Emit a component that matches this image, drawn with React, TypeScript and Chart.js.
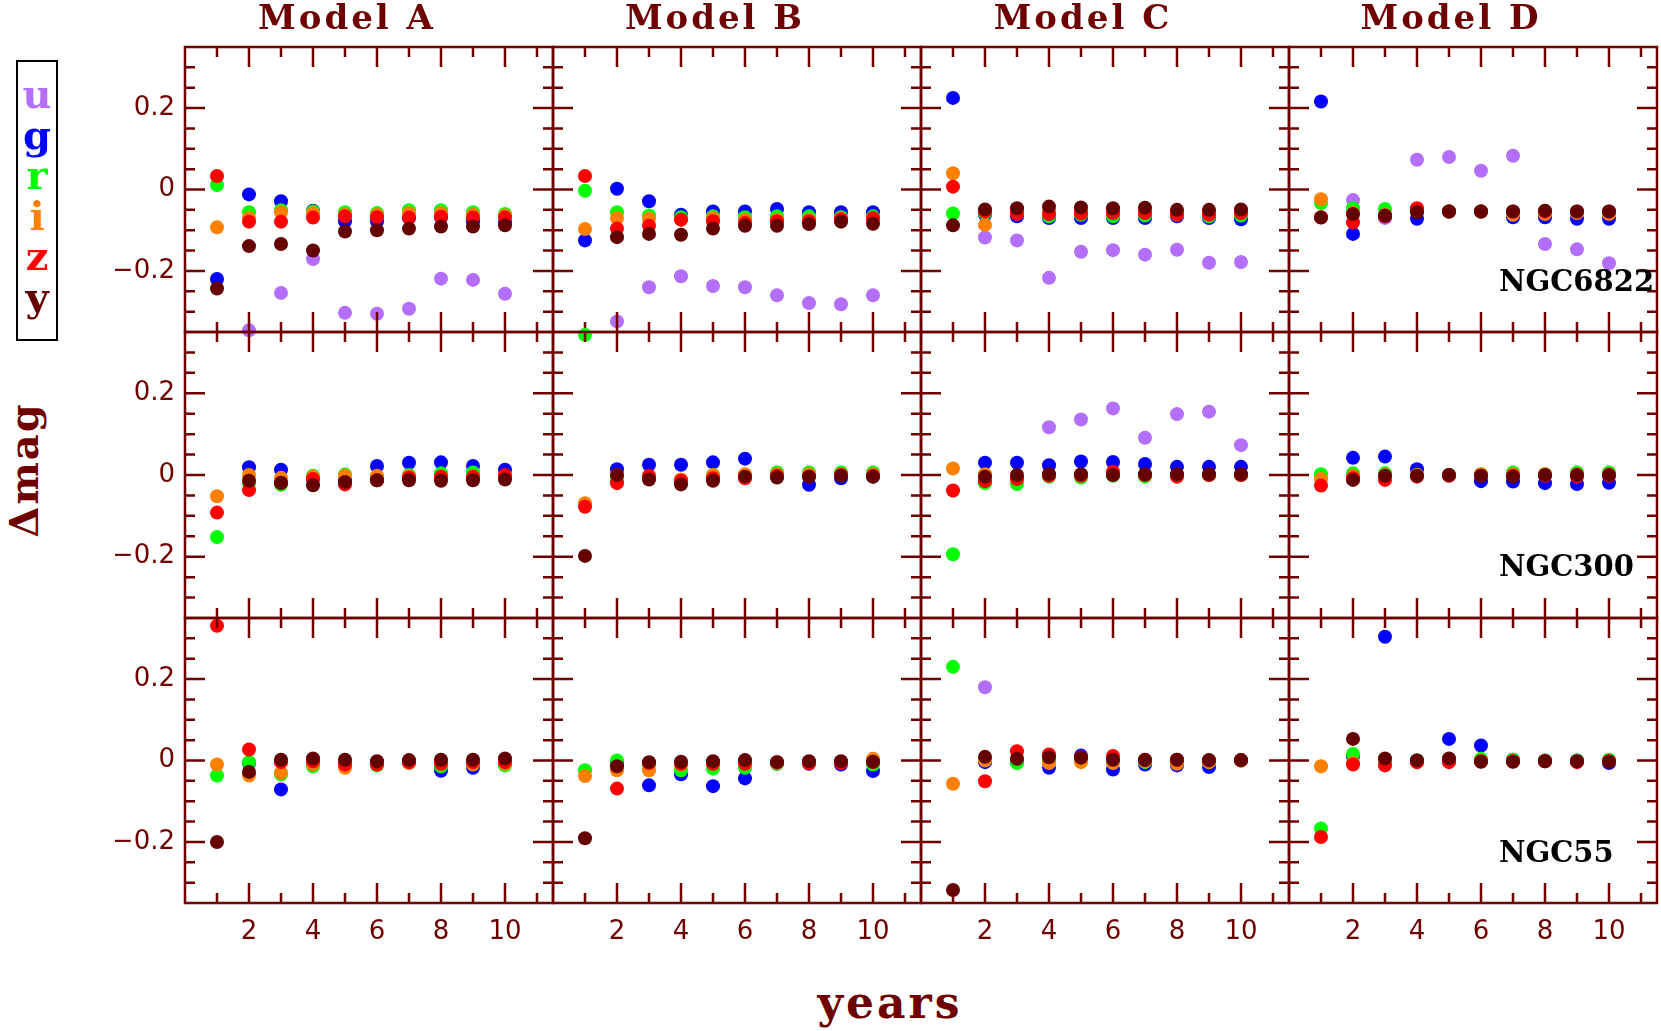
import React, { useEffect, useRef } from 'react';
import { Chart, registerables } from 'chart.js';

Chart.register(...registerables);

const N = null;

const MODELS = ['Model A', 'Model B', 'Model C', 'Model D'];
const GALAXIES = ['NGC6822', 'NGC300', 'NGC55'];
const BANDS = ['u', 'g', 'r', 'i', 'z', 'y'];
const BAND_COLORS = ['#b36efc', '#0000ff', '#00ff00', '#ff8000', '#ff0000', '#650000'];
const YEARS = [1, 2, 3, 4, 5, 6, 7, 8, 9, 10];
const X_TICKS = [1, 2, 3, 4, 5, 6, 7, 8, 9, 10, 11];
const X_LABELS = [2, 4, 6, 8, 10];
const Y_TICKS = [-0.3, -0.25, -0.2, -0.15, -0.1, -0.05, 0, 0.05, 0.1, 0.15, 0.2, 0.25, 0.3];
const Y_LABELS = [-0.2, 0, 0.2];

// each array: [Model A, Model B, Model C, Model D], 10 yearly values
const NGC6822_u = [
  [N, -0.346, -0.254, -0.171, -0.303, -0.305, -0.293, -0.219, -0.222, -0.256],
  [N, -0.324, -0.240, -0.213, -0.237, -0.240, -0.260, -0.279, -0.282, -0.260],
  [N, -0.118, -0.125, -0.217, -0.153, -0.149, -0.160, -0.148, -0.180, -0.178],
  [N, -0.026, -0.070, 0.073, 0.080, 0.046, 0.083, -0.134, -0.147, -0.181],
];
const NGC6822_g = [
  [-0.220, -0.012, -0.029, -0.052, -0.078, -0.078, -0.070, -0.068, -0.078, -0.080],
  [-0.125, 0.002, -0.029, -0.062, -0.054, -0.054, -0.048, -0.056, -0.056, -0.056],
  [0.225, -0.062, -0.066, -0.070, -0.070, -0.070, -0.070, -0.066, -0.070, -0.073],
  [0.216, -0.109, -0.066, -0.072, -0.054, -0.054, -0.068, -0.068, -0.072, -0.072],
];
const NGC6822_r = [
  [0.011, -0.056, -0.051, -0.054, -0.056, -0.058, -0.051, -0.051, -0.056, -0.060],
  [-0.003, -0.056, -0.064, -0.068, -0.066, -0.068, -0.066, -0.066, -0.068, -0.066],
  [-0.059, -0.058, -0.058, -0.066, -0.062, -0.066, -0.064, -0.062, -0.066, -0.064],
  [-0.033, -0.046, -0.048, -0.050, -0.054, -0.054, -0.056, -0.056, -0.056, -0.056],
];
const NGC6822_i = [
  [-0.093, -0.070, -0.056, -0.058, -0.062, -0.062, -0.058, -0.058, -0.062, -0.064],
  [-0.097, -0.070, -0.072, -0.074, -0.070, -0.074, -0.074, -0.074, -0.072, -0.072],
  [0.040, -0.087, -0.054, -0.054, -0.054, -0.056, -0.056, -0.056, -0.058, -0.056],
  [-0.024, -0.058, -0.062, -0.054, -0.054, -0.054, -0.062, -0.060, -0.058, -0.060],
];
const NGC6822_z = [
  [0.033, -0.079, -0.079, -0.069, -0.066, -0.068, -0.069, -0.067, -0.069, -0.069],
  [0.033, -0.096, -0.089, -0.074, -0.078, -0.082, -0.078, -0.078, -0.073, -0.070],
  [0.007, -0.054, -0.060, -0.060, -0.059, -0.058, -0.058, -0.062, -0.062, -0.058],
  [-0.068, -0.081, -0.066, -0.046, -0.054, -0.054, -0.054, -0.054, -0.054, -0.054],
];
const NGC6822_y = [
  [-0.243, -0.139, -0.134, -0.150, -0.103, -0.100, -0.096, -0.091, -0.091, -0.088],
  [N, -0.117, -0.109, -0.111, -0.096, -0.089, -0.089, -0.085, -0.079, -0.084],
  [-0.088, -0.049, -0.046, -0.042, -0.044, -0.046, -0.045, -0.050, -0.050, -0.049],
  [-0.069, -0.060, -0.064, -0.056, -0.054, -0.054, -0.054, -0.052, -0.054, -0.054],
];

const NGC300_u = [
  [N, N, N, N, N, N, N, N, N, N],
  [N, N, N, N, N, N, N, N, N, N],
  [N, N, N, 0.117, 0.136, 0.163, 0.091, 0.149, 0.155, 0.073],
  [N, N, N, N, N, N, N, N, N, N],
];
const NGC300_g = [
  [N, 0.019, 0.013, -0.008, -0.012, 0.022, 0.030, 0.031, 0.022, 0.013],
  [N, 0.014, 0.025, 0.025, 0.031, 0.040, -0.004, -0.024, -0.008, -0.004],
  [N, 0.030, 0.030, 0.024, 0.033, 0.032, 0.027, 0.020, 0.020, 0.020],
  [N, 0.042, 0.045, 0.014, 0.000, -0.015, -0.016, -0.020, -0.022, -0.019],
];
const NGC300_r = [
  [-0.152, -0.020, -0.024, -0.002, 0.001, -0.004, 0.000, 0.004, 0.006, -0.004],
  [0.343, -0.012, -0.008, -0.016, 0.000, -0.004, 0.006, 0.006, 0.006, 0.006],
  [-0.194, -0.020, -0.022, -0.004, -0.006, -0.002, -0.004, -0.002, 0.000, 0.000],
  [0.002, 0.004, 0.004, 0.000, 0.000, 0.002, 0.006, 0.002, 0.006, 0.006],
];
const NGC300_i = [
  [-0.052, 0.000, -0.007, -0.004, -0.002, -0.002, -0.003, -0.004, -0.004, -0.004],
  [-0.069, 0.000, -0.008, -0.011, 0.000, 0.002, 0.002, 0.002, 0.002, 0.002],
  [0.016, 0.002, -0.008, 0.000, 0.000, 0.000, 0.000, 0.000, 0.000, 0.000],
  [-0.010, -0.002, 0.000, 0.000, 0.000, 0.002, 0.002, 0.002, 0.002, 0.002],
];
const NGC300_z = [
  [-0.092, -0.037, -0.020, -0.010, -0.023, -0.013, -0.006, -0.004, -0.004, 0.000],
  [-0.078, -0.020, -0.002, -0.014, -0.008, -0.008, -0.002, -0.004, 0.000, -0.002],
  [-0.038, -0.015, -0.010, -0.002, -0.002, 0.008, 0.000, -0.004, 0.000, 0.000],
  [-0.026, -0.008, -0.012, -0.004, -0.002, -0.002, -0.002, -0.002, -0.004, -0.002],
];
const NGC300_y = [
  [N, -0.014, -0.019, -0.025, -0.017, -0.013, -0.013, -0.014, -0.013, -0.011],
  [-0.198, 0.000, -0.011, -0.023, -0.014, -0.004, -0.006, -0.004, -0.002, -0.004],
  [N, -0.004, 0.000, 0.002, 0.002, 0.000, 0.002, 0.002, 0.002, 0.002],
  [N, -0.012, -0.002, -0.002, 0.000, -0.002, -0.004, 0.000, 0.000, 0.000],
];

const NGC55_u = [
  [N, N, N, N, N, N, N, N, N, N],
  [N, N, N, N, N, N, N, N, N, N],
  [N, 0.180, N, N, N, N, N, N, N, N],
  [N, N, N, N, N, N, N, N, N, N],
];
const NGC55_g = [
  [N, -0.006, -0.071, -0.008, -0.010, -0.008, -0.005, -0.025, -0.018, -0.006],
  [N, -0.004, -0.061, -0.034, -0.063, -0.044, -0.008, -0.008, -0.010, -0.026],
  [N, -0.004, -0.004, -0.018, 0.012, -0.022, -0.010, -0.012, -0.016, 0.000],
  [N, 0.010, 0.304, 0.000, 0.053, 0.037, 0.002, 0.000, 0.000, -0.006],
];
const NGC55_r = [
  [-0.037, -0.004, -0.034, -0.014, -0.010, -0.012, -0.004, -0.014, -0.008, -0.012],
  [-0.024, 0.000, -0.010, -0.024, -0.020, -0.018, -0.008, -0.006, -0.004, -0.010],
  [0.230, 0.002, -0.006, -0.004, 0.004, -0.002, -0.004, -0.004, -0.004, 0.000],
  [-0.167, 0.016, -0.004, 0.000, 0.000, 0.004, 0.002, 0.000, 0.000, 0.002],
];
const NGC55_i = [
  [-0.010, -0.037, -0.030, -0.010, -0.018, -0.008, -0.006, -0.008, -0.010, -0.008],
  [-0.038, -0.024, -0.024, -0.010, -0.008, -0.006, -0.006, -0.004, -0.004, 0.004],
  [-0.057, 0.000, 0.006, -0.006, -0.004, -0.006, -0.002, -0.008, -0.004, 0.000],
  [-0.014, -0.006, -0.006, -0.004, -0.002, -0.002, -0.002, -0.002, -0.002, -0.002],
];
const NGC55_z = [
  [0.331, 0.027, -0.004, -0.002, -0.010, -0.010, -0.004, -0.008, -0.004, -0.004],
  [N, -0.069, -0.006, -0.008, -0.008, -0.008, -0.004, -0.007, -0.006, -0.004],
  [N, -0.051, 0.023, 0.015, 0.008, 0.011, 0.002, 0.002, 0.000, 0.001],
  [-0.188, -0.010, -0.012, -0.004, -0.004, -0.002, -0.002, -0.002, -0.004, -0.002],
];
const NGC55_y = [
  [-0.200, -0.028, 0.002, 0.005, 0.002, -0.002, 0.001, 0.002, 0.002, 0.005],
  [-0.191, -0.014, -0.004, -0.003, -0.002, 0.001, -0.004, -0.002, -0.002, -0.003],
  [-0.318, 0.009, 0.004, 0.008, 0.007, 0.002, 0.001, 0.002, 0.001, 0.001],
  [N, 0.053, 0.005, 0.000, 0.005, -0.003, -0.003, -0.002, -0.002, -0.003],
];

const SERIES: Record<string, (number | null)[][][]> = {
  NGC6822: [NGC6822_u, NGC6822_g, NGC6822_r, NGC6822_i, NGC6822_z, NGC6822_y],
  NGC300: [NGC300_u, NGC300_g, NGC300_r, NGC300_i, NGC300_z, NGC300_y],
  NGC55: [NGC55_u, NGC55_g, NGC55_r, NGC55_i, NGC55_z, NGC55_y],
};

// layout
const AXIS = '#6e0000';
const COL_X = [185, 553, 921, 1289, 1657];
const ROW_Y = [47, 332, 618, 903];
const PAD = 14;
const LABEL_W = 70;
const LABEL_H = 50;
const MAJOR = 20;
const MINOR = 10;
const TICK_FONT = { family: 'DejaVu Sans', size: 26 };

const framePlugin = {
  id: 'frame',
  afterDatasetsDraw(chart: any) {
    const { ctx, chartArea: a, scales } = chart;
    const xs = scales.x;
    const ys = scales.y;
    ctx.save();
    ctx.strokeStyle = AXIS;
    ctx.lineWidth = 2.5;
    ctx.lineCap = 'butt';
    ctx.beginPath();
    for (const v of X_TICKS) {
      const px = xs.getPixelForValue(v);
      const len = X_LABELS.includes(v) ? MAJOR : MINOR;
      ctx.moveTo(px, a.bottom);
      ctx.lineTo(px, a.bottom - len);
      ctx.moveTo(px, a.top);
      ctx.lineTo(px, a.top + len);
    }
    for (const v of Y_TICKS) {
      const py = ys.getPixelForValue(v);
      const len = Y_LABELS.some((l) => Math.abs(l - v) < 1e-9) ? MAJOR : MINOR;
      ctx.moveTo(a.left, py);
      ctx.lineTo(a.left + len, py);
      ctx.moveTo(a.right, py);
      ctx.lineTo(a.right - len, py);
    }
    ctx.stroke();
    ctx.strokeRect(a.left, a.top, a.right - a.left, a.bottom - a.top);
    ctx.restore();
  },
};

function zeroPadding(s: any) {
  s.paddingTop = 0;
  s.paddingBottom = 0;
  s.paddingLeft = 0;
  s.paddingRight = 0;
}

function Panel({ row, col }: { row: number; col: number }) {
  const ref = useRef<HTMLCanvasElement>(null);
  const x0 = COL_X[col];
  const x1 = COL_X[col + 1];
  const y0 = ROW_Y[row];
  const y1 = ROW_Y[row + 1];
  const showY = col === 0;
  const showX = row === 2;
  const extraL = showY ? LABEL_W : 0;
  const extraB = showX ? LABEL_H : 0;
  const left = x0 - PAD - extraL;
  const top = y0 - PAD;
  const width = x1 - x0 + 2 * PAD + extraL;
  const height = y1 - y0 + 2 * PAD + extraB;

  useEffect(() => {
    const bands = SERIES[GALAXIES[row]];
    const datasets = BANDS.map((b, bi) => ({
      label: b,
      data: YEARS.map((yr, k) => ({ x: yr, y: bands[bi][col][k] })).filter((p) => p.y !== null),
      backgroundColor: BAND_COLORS[bi],
      borderWidth: 0,
      pointRadius: 7,
      pointHoverRadius: 7,
      clip: false as any,
      order: BANDS.length - bi,
    }));
    const chart = new Chart(ref.current as HTMLCanvasElement, {
      type: 'scatter',
      data: { datasets } as any,
      options: {
        responsive: false,
        animation: false,
        events: [],
        layout: { padding: { left: PAD, right: PAD, top: PAD, bottom: PAD } },
        plugins: { legend: { display: false }, tooltip: { enabled: false } },
        scales: {
          x: {
            type: 'linear',
            min: 0,
            max: 11.5,
            display: showX,
            position: 'bottom',
            grid: { display: false, drawTicks: false },
            border: { display: false },
            afterBuildTicks: (s: any) => {
              s.ticks = X_LABELS.map((v) => ({ value: v }));
            },
            afterFit: (s: any) => {
              s.height = showX ? LABEL_H : 0;
              zeroPadding(s);
            },
            ticks: {
              autoSkip: false,
              maxRotation: 0,
              padding: 14,
              color: AXIS,
              font: TICK_FONT,
              callback: (v: any) => String(v),
            },
          },
          y: {
            type: 'linear',
            min: -0.35,
            max: 0.35,
            display: showY,
            position: 'left',
            grid: { display: false, drawTicks: false },
            border: { display: false },
            afterBuildTicks: (s: any) => {
              s.ticks = Y_LABELS.map((v) => ({ value: v }));
            },
            afterFit: (s: any) => {
              s.width = showY ? LABEL_W : 0;
              zeroPadding(s);
            },
            ticks: {
              autoSkip: false,
              padding: 10,
              color: AXIS,
              font: TICK_FONT,
              callback: (v: any) => (v < 0 ? '\u2212' + String(Math.abs(v)) : String(v)),
            },
          },
        },
      } as any,
      plugins: [framePlugin],
    });
    return () => chart.destroy();
  }, [row, col]);

  return (
    <canvas
      ref={ref}
      width={width}
      height={height}
      style={{ position: 'absolute', left, top, width, height }}
    />
  );
}

function Txt({
  x,
  baseline,
  size,
  color,
  align = 'left',
  family = 'DejaVu Serif',
  weight = 'bold',
  spacing = 0,
  children,
}: any) {
  const style: React.CSSProperties = {
    position: 'absolute',
    top: baseline - 0.846 * size,
    fontFamily: family,
    fontWeight: weight,
    fontSize: size,
    lineHeight: `${size}px`,
    color,
    whiteSpace: 'nowrap',
    letterSpacing: spacing,
  };
  if (align === 'center') {
    style.left = x - 300;
    style.width = 600;
    style.textAlign = 'center';
  } else {
    style.left = x;
  }
  return <div style={style}>{children}</div>;
}

const LEGEND_BASELINES = [108, 148.5, 189, 229.5, 270, 310.5];

export default function App() {
  const panels = [];
  for (let r = 0; r < 3; r++) for (let c = 0; c < 4; c++) panels.push(<Panel key={`${r}-${c}`} row={r} col={c} />);
  return (
    <div style={{ position: 'absolute', left: 0, top: 0, width: 1661, height: 1031, background: '#fff', overflow: 'hidden' }}>
      {panels}
      {MODELS.map((m, c) => (
        <Txt key={m} x={(COL_X[c] + COL_X[c + 1]) / 2 - 22} baseline={28.5} size={34} color={AXIS} align="center" spacing={3}>
          {m}
        </Txt>
      ))}
      {GALAXIES.map((g, r) => (
        <Txt key={g} x={1499} baseline={ROW_Y[r] + 245} size={29} color="#000">
          {g}
        </Txt>
      ))}
      <div
        style={{
          position: 'absolute',
          left: 16,
          top: 60,
          width: 42,
          height: 281,
          border: '2px solid #000',
          boxSizing: 'border-box',
        }}
      />
      {BANDS.map((b, i) => (
        <Txt key={b} x={37} baseline={LEGEND_BASELINES[i]} size={40} color={BAND_COLORS[i]} align="center">
          {b}
        </Txt>
      ))}
      <div
        style={{
          position: 'absolute',
          left: 24 - 150,
          top: 470 - 25,
          width: 300,
          height: 50,
          lineHeight: '50px',
          textAlign: 'center',
          transform: 'rotate(-90deg)',
          fontFamily: 'DejaVu Serif',
          fontWeight: 'bold',
          fontSize: 40,
          color: AXIS,
          letterSpacing: 2,
        }}
      >
        Δmag
      </div>
      <Txt x={890} baseline={1018} size={44} color={AXIS} align="center" spacing={3}>
        years
      </Txt>
    </div>
  );
}
